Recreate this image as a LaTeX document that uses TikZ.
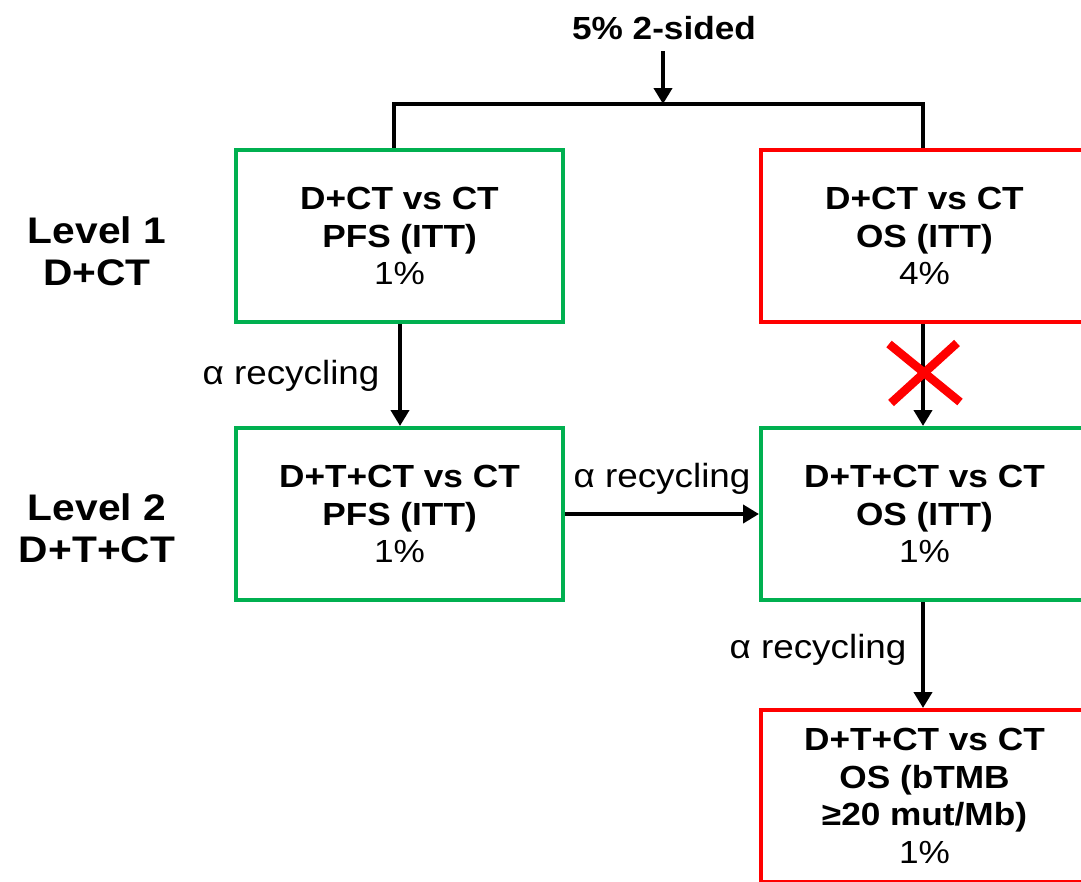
\documentclass[tikz,border=0pt]{standalone}
\usepackage{fontspec}
\setmainfont{Liberation Sans}[FakeStretch=1.1]
\usetikzlibrary{arrows.meta}
\definecolor{okgreen}{RGB}{0,176,80}
\definecolor{nogored}{RGB}{255,0,0}
\tikzset{
  testbox/.style={draw, line width=4pt, minimum width=327pt, minimum height=172pt,
    inner sep=0pt, align=center, font=\fontsize{32}{37.5}\selectfont},
  passbox/.style={testbox, draw=okgreen},
  failbox/.style={testbox, draw=nogored},
  flow/.style={line width=4pt, -{Triangle[length=16pt,width=18pt]}},
  recyc/.style={font=\fontsize{33.5}{38}\selectfont},
  levellabel/.style={font=\bfseries\fontsize{37}{42}\selectfont, align=center}
}
\begin{document}
\begin{tikzpicture}[x=1pt,y=-1pt]
\useasboundingbox (0,0) rectangle (1081,881);
\clip (0,0) rectangle (1081,881);

% overall alpha
\node[font=\bfseries\fontsize{32}{37}\selectfont] (alpha) at (664,28) {5\% 2-sided};
\coordinate (astart) at (663,51);
\coordinate (split) at (663,104);
\coordinate (tl) at (394,150);
\coordinate (tr) at (923,150);
\draw[flow] (astart) -- (split);
\draw[line width=4pt] (tl) |- (split) -| (tr);

% level labels
\node[levellabel] (lev1) at (97,251) {Level 1\\D+CT};
\node[levellabel] (lev2) at (97,528) {Level 2\\D+T+CT};

% hypothesis boxes
\node[passbox] (pfs1) at (399.5,236) {\textbf{D+CT vs CT}\\\textbf{PFS (ITT)}\\1\%};
\node[failbox] (os1) at (924.5,236) {\textbf{D+CT vs CT}\\\textbf{OS (ITT)}\\4\%};
\node[passbox] (pfs2) at (399.5,514) {\textbf{D+T+CT vs CT}\\\textbf{PFS (ITT)}\\1\%};
\node[passbox] (os2) at (924.5,514) {\textbf{D+T+CT vs CT}\\\textbf{OS (ITT)}\\1\%};
\node[failbox] (tmb) at (924.5,796) {\textbf{D+T+CT vs CT}\\\textbf{OS (bTMB}\\\textbf{≥20 mut/Mb)}\\1\%};

% recycling arrows
\draw[flow] (pfs1.south -| 400,0) -- (pfs2.north -| 400,0);
\node[recyc] (r1) at (291,376) {α recycling};
\draw[flow] (pfs2.east) -- (os2.west);
\node[recyc] (r2) at (662,479) {α recycling};
\draw[flow] (os1.south -| 923,0) -- (os2.north -| 923,0);
\draw[flow] (os2.south -| 923,0) -- (tmb.north -| 923,0);
\node[recyc] (r3) at (818,650) {α recycling};

% blocked path
\draw[nogored, line width=8.5pt] (889,344) -- (960,402);
\draw[nogored, line width=8.5pt] (957,343) -- (891,403);
\end{tikzpicture}
\end{document}
